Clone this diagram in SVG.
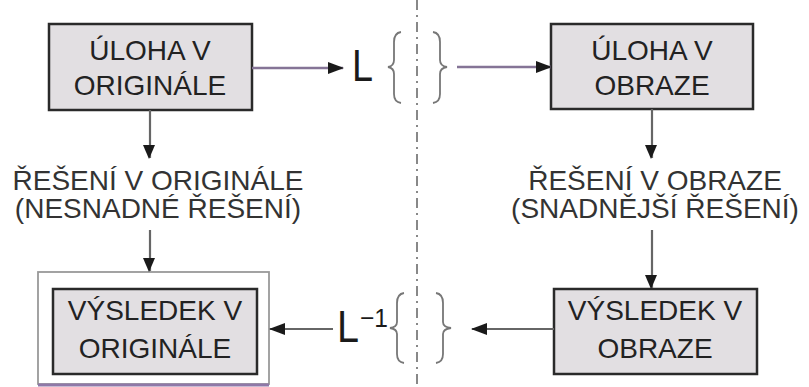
<svg xmlns="http://www.w3.org/2000/svg" width="809" height="387" viewBox="0 0 809 387">
<defs>
<style>
.box{fill:#e2dfe2;stroke:#2a2a2a;stroke-width:2.5}
.t{font-family:"Liberation Sans",Arial,sans-serif;fill:#222;text-anchor:middle}
.bt{font-size:28px}
.lab{font-size:28px;fill:#333}
.con{stroke:#666;stroke-width:2.2;fill:none}
.pur{stroke:#857496;stroke-width:2.5;fill:none}
.brace{stroke:#777;stroke-width:1.8;fill:none}
</style>
<marker id="ah" markerWidth="12" markerHeight="14" refX="7" refY="13" orient="0" markerUnits="userSpaceOnUse">
<path d="M0,0 L12,0 L6,14 Z" fill="#1a1a1a"/>
</marker>
<marker id="ahs" markerWidth="16" markerHeight="12" refX="15" refY="6" orient="auto" markerUnits="userSpaceOnUse">
<path d="M0,0 L16,6 L0,12 Z" fill="#1a1a1a"/>
</marker>
</defs>
<rect width="809" height="387" fill="#ffffff"/>

<line x1="417" y1="0" x2="417" y2="387" stroke="#888" stroke-width="2" stroke-dasharray="10,5,2,5"/>

<g id="n1">
<rect class="box" x="49" y="24" width="203" height="86"/>
<text class="t bt" x="150" y="60">ÚLOHA V</text>
<text class="t bt" x="150" y="95">ORIGINÁLE</text>
</g>

<g id="n2">
<rect class="box" x="551" y="24" width="202" height="85"/>
<text class="t bt" x="652" y="60">ÚLOHA V</text>
<text class="t bt" x="652" y="95">OBRAZE</text>
</g>

<g id="n3">
<text class="t lab" x="158" y="190">ŘEŠENÍ V ORIGINÁLE</text>
<text class="t lab" x="158" y="218">(NESNADNÉ ŘEŠENÍ)</text>
</g>

<g id="n4">
<text class="t lab" x="655" y="190">ŘEŠENÍ V OBRAZE</text>
<text class="t lab" x="655" y="218">(SNADNĚJŠÍ ŘEŠENÍ)</text>
</g>

<g id="n5">
<rect x="38" y="272" width="231" height="112" fill="#ffffff" stroke="#999" stroke-width="1.8"/>
<line x1="38" y1="385" x2="269" y2="385" stroke="#8f78a8" stroke-width="3"/>
<rect class="box" x="53" y="289" width="204" height="85"/>
<text class="t bt" x="155" y="320">VÝSLEDEK V</text>
<text class="t bt" x="155" y="358">ORIGINÁLE</text>
</g>

<g id="n6">
<rect class="box" x="554" y="289" width="203" height="85"/>
<text class="t bt" x="655" y="320">VÝSLEDEK V</text>
<text class="t bt" x="655" y="358">OBRAZE</text>
</g>

<g id="op1">
<text x="352" y="81" font-family="Liberation Sans,Arial,sans-serif" font-size="45" fill="#1a1a1a" textLength="21" lengthAdjust="spacingAndGlyphs">L</text>
<path class="brace" d="M401,32 Q394,33 394,42 L394,60 Q394,66 388,67 Q394,68 394,74 L394,94 Q394,102 401,103"/>
<path class="brace" d="M433,32 Q440,33 440,42 L440,60 Q440,66 447,67 Q440,68 440,74 L440,94 Q440,102 433,103"/>
</g>

<g id="op2">
<text x="337" y="342" font-family="Liberation Sans,Arial,sans-serif" font-size="44" fill="#1a1a1a" textLength="22" lengthAdjust="spacingAndGlyphs">L</text>
<text x="360" y="327" font-family="Liberation Sans,Arial,sans-serif" font-size="26" fill="#1a1a1a" textLength="28" lengthAdjust="spacingAndGlyphs">−1</text>
<path class="brace" d="M404,293 Q397,294 397,303 L397,322 Q397,327 390,328 Q397,329 397,334 L397,354 Q397,362 404,363"/>
<path class="brace" d="M436,293 Q443,294 443,303 L443,322 Q443,327 451,328 Q443,329 443,334 L443,354 Q443,362 436,363"/>
</g>

<g id="connectors">
<line class="pur" x1="252" y1="68" x2="343" y2="68" marker-end="url(#ahs)"/>
<line class="pur" x1="457" y1="67" x2="551" y2="67" marker-end="url(#ahs)"/>
<line class="con" x1="150" y1="110" x2="150" y2="158" marker-end="url(#ah)"/>
<line class="con" x1="150" y1="230" x2="150" y2="271" marker-end="url(#ah)"/>
<line class="con" x1="652" y1="109" x2="652" y2="158" marker-end="url(#ah)"/>
<line class="con" x1="652" y1="230" x2="652" y2="288" marker-end="url(#ah)"/>
<line class="con" x1="333" y1="329" x2="270" y2="329" marker-end="url(#ahs)"/>
<line class="con" x1="554" y1="329" x2="472" y2="329" marker-end="url(#ahs)"/>
</g>
</svg>
